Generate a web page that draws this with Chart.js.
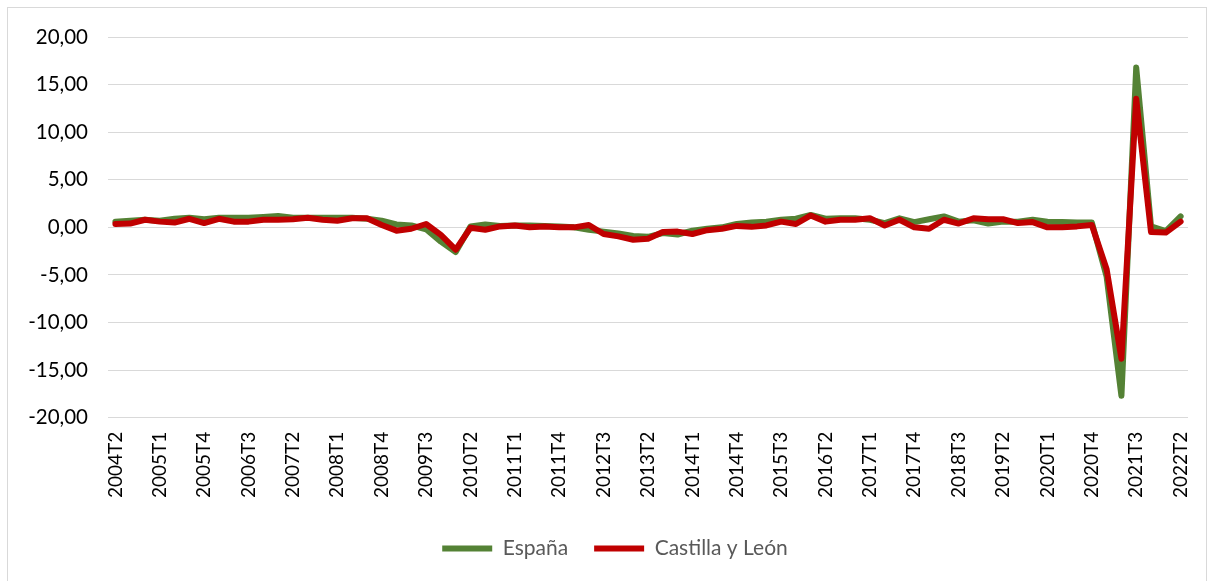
<!DOCTYPE html>
<html>
<head>
<meta charset="utf-8">
<script src="https://cdn.jsdelivr.net/npm/chart.js@4"></script>
<style>
  html, body { margin: 0; padding: 0; background: #fff; }
  #wrap { width: 1212px; height: 581px; }
</style>
</head>
<body>
<div id="wrap"><canvas id="pibChart"></canvas></div>
<script>
// Trimestres del eje X
const quarters = [
  '2004T2','2004T3','2004T4','2005T1','2005T2','2005T3','2005T4','2006T1','2006T2','2006T3','2006T4',
  '2007T1','2007T2','2007T3','2007T4','2008T1','2008T2','2008T3','2008T4','2009T1','2009T2','2009T3','2009T4',
  '2010T1','2010T2','2010T3','2010T4','2011T1','2011T2','2011T3','2011T4','2012T1','2012T2','2012T3','2012T4',
  '2013T1','2013T2','2013T3','2013T4','2014T1','2014T2','2014T3','2014T4','2015T1','2015T2','2015T3','2015T4',
  '2016T1','2016T2','2016T3','2016T4','2017T1','2017T2','2017T3','2017T4','2018T1','2018T2','2018T3','2018T4',
  '2019T1','2019T2','2019T3','2019T4','2020T1','2020T2','2020T3','2020T4','2021T1','2021T2','2021T3','2021T4',
  '2022T1','2022T2'
];

// Tasa de variacion trimestral (%)
const espana = [
  0.6, 0.7, 0.8, 0.7, 0.9, 1.0, 0.85, 1.0, 1.0, 1.0, 1.1,
  1.2, 1.0, 1.0, 1.0, 1.0, 1.0, 0.9, 0.7, 0.3, 0.2, -0.2, -1.5,
  -2.6, 0.1, 0.3, 0.15, 0.2, 0.2, 0.15, 0.1, 0.0, -0.25, -0.45, -0.65,
  -0.9, -1.0, -0.6, -0.75, -0.35, -0.15, 0.0, 0.35, 0.5, 0.6, 0.8, 0.9,
  1.3, 0.9, 0.95, 0.95, 0.8, 0.45, 0.95, 0.55, 0.85, 1.15, 0.6, 0.75,
  0.4, 0.6, 0.6, 0.8, 0.6, 0.55, 0.5, 0.5, -5.2, -17.7, 16.8, 0.1,
  -0.4, 1.15
];

const castillaLeon = [
  0.35, 0.4, 0.8, 0.6, 0.5, 0.9, 0.45, 0.9, 0.6, 0.6, 0.8,
  0.8, 0.85, 1.0, 0.8, 0.7, 0.95, 0.95, 0.25, -0.35, -0.15, 0.35, -0.8,
  -2.35, -0.05, -0.25, 0.1, 0.2, 0.0, 0.1, 0.0, 0.0, 0.25, -0.7, -0.95,
  -1.3, -1.2, -0.5, -0.45, -0.7, -0.3, -0.15, 0.15, 0.05, 0.2, 0.6, 0.35,
  1.25, 0.6, 0.8, 0.8, 0.95, 0.2, 0.8, 0.0, -0.15, 0.8, 0.4, 0.95,
  0.85, 0.85, 0.45, 0.55, 0.0, 0.0, 0.1, 0.25, -4.4, -13.8, 13.5, -0.5,
  -0.55, 0.6
];

const yTicks = [-20, -15, -10, -5, 0, 5, 10, 15, 20];

const FONT = 'Lato, "Liberation Sans", sans-serif';

// marco gris del area del grafico
const frame = {
  id: 'frame',
  beforeDraw(chart) {
    const c = chart.ctx;
    c.save();
    c.fillStyle = '#ffffff';
    c.fillRect(0, 0, chart.width, chart.height);
    c.strokeStyle = '#d9d9d9';
    c.lineWidth = 1;
    c.strokeRect(7.5, 7.5, 1199, 574);
    c.restore();
  }
};

// la leyenda de Excel queda algo desplazada a la derecha
const legendShift = {
  id: 'legendShift',
  afterLayout(chart) {
    chart.legend.left += 9;
    chart.legend.right += 9;
  }
};

new Chart(document.getElementById('pibChart'), {
  type: 'line',
  data: {
    labels: quarters,
    datasets: [{
      label: 'España',
      data: espana,
      borderColor: '#548235',
      backgroundColor: '#548235',
      borderWidth: 6,
      borderCapStyle: 'round',
      borderJoinStyle: 'round',
      pointRadius: 0,
      tension: 0,
      order: 1
    }, {
      label: 'Castilla y León',
      data: castillaLeon,
      borderColor: '#c00000',
      backgroundColor: '#c00000',
      borderWidth: 6,
      borderCapStyle: 'round',
      borderJoinStyle: 'round',
      pointRadius: 0,
      tension: 0,
      order: 0
    }]
  },
  options: {
    responsive: true,
    maintainAspectRatio: false,
    animation: false,
    layout: {
      padding: { top: 37, left: 24, right: 24, bottom: 12 }
    },
    scales: {
      x: {
        offset: true,
        grid: { display: false, drawTicks: false },
        border: { display: false },
        afterFit: (s) => { s.paddingRight = 0; s.paddingLeft = 0; },
        ticks: {
          autoSkip: false,
          minRotation: 90,
          maxRotation: 90,
          padding: 14,
          color: '#000',
          font: { family: FONT, size: 19 },
          callback: (v, i) => (i % 3 === 0 ? quarters[i] : '')
        }
      },
      y: {
        min: yTicks[0],
        max: yTicks[yTicks.length - 1],
        afterBuildTicks: (s) => { s.ticks = yTicks.map(v => ({ value: v })); },
        afterFit: (s) => { s.width = 84; },
        grid: { color: '#d9d9d9', lineWidth: 1, drawTicks: false },
        border: { display: false },
        ticks: {
          padding: 20,
          color: '#000',
          font: { family: FONT, size: 20.5 },
          callback: (v) => v.toFixed(2).replace('.', ',')
        }
      }
    },
    plugins: {
      legend: {
        position: 'bottom',
        labels: {
          usePointStyle: true,
          pointStyle: 'line',
          pointStyleWidth: 50,
          padding: 26,
          color: '#595959',
          font: { family: FONT, size: 21 },
          sort: (a, b) => a.datasetIndex - b.datasetIndex
        }
      },
      tooltip: { enabled: false }
    }
  },
  plugins: [frame, legendShift]
});
</script>
</body>
</html>
